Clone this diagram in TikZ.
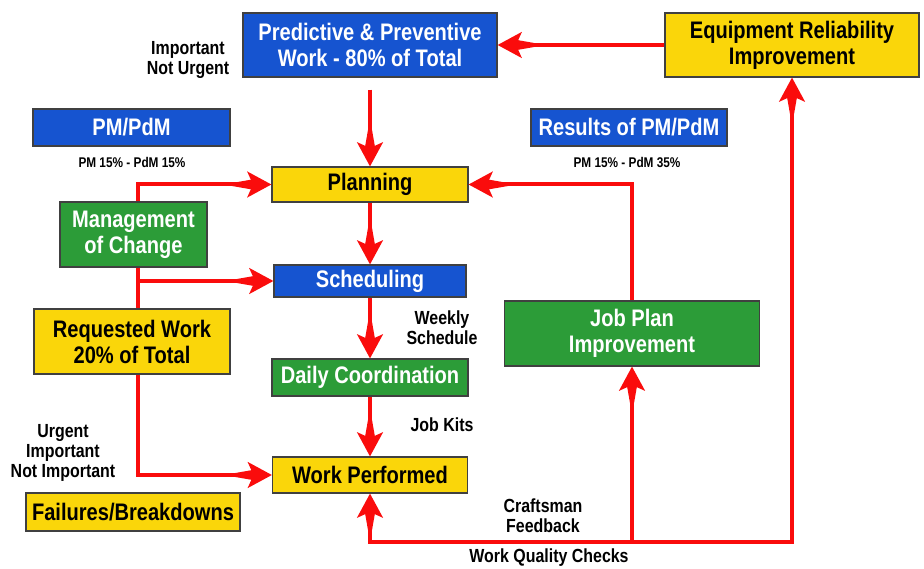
\documentclass[tikz,border=0pt]{standalone}
\usepackage{fontspec}
\setmainfont{Liberation Sans}[FakeStretch=0.84]
\usepackage{tikz}
\usetikzlibrary{arrows.meta}
\definecolor{boxblue}{RGB}{22,84,208}
\definecolor{boxyellow}{RGB}{250,214,10}
\definecolor{boxgreen}{RGB}{44,156,56}
\definecolor{flowred}{RGB}{250,12,12}
\tikzstyle{arrow} = [draw=flowred, line width=0.1cm,
  -{Kite[length=0.8cm 0 0, width=0.28cm 0 0, inset=0.8cm 0 0, sep=-0.2cm 0 0]Stealth[length=0.6cm 0 0, width=0.64cm 0 0, inset=0.14cm 0 0]}]
\tikzset{
 b/.style
  = {rectangle, draw=black!75, thick, align=center, inner sep=0pt,
     font=\fontsize{17}{18.5}\selectfont\bfseries},
 bb/.style
  = {b, fill=boxblue, text=white},
 yb/.style
  = {b, fill=boxyellow, text=black},
 gb/.style
  = {b, fill=boxgreen, text=white},
 t/.style
  = {align=center, font=\fontsize{13.5}{14.5}\selectfont\bfseries},
 tt/.style
  = {font=\fontsize{10}{11}\selectfont\bfseries},
 l/.style
  = {draw=flowred, line width=0.1cm},
}

\begin{document}
\begin{tikzpicture}[x=0.025cm, y=-0.025cm]
\useasboundingbox (0,0) rectangle (924,569);

% Top row
\node[bb, minimum width=6.35cm, minimum height=1.6cm] (predict) at (370,45) {Predictive \& Preventive\\Work - 80\% of Total};
\node[yb, minimum width=6.35cm, minimum height=1.6cm] (equip) at (792,45) {Equipment Reliability\\Improvement};
\node[t] (imp) at (188,60) {Important\\Not Urgent};

% PM boxes
\node[bb, minimum width=4.925cm, minimum height=0.925cm] (pm) at (131.5,127.5) {PM/PdM};
\node[tt] (pmlbl) at (132,162) {PM 15\% - PdM 15\%};
\node[bb, minimum width=4.9cm, minimum height=0.925cm] (results) at (629,127.5) {Results of PM/PdM};
\node[tt] (reslbl) at (627,162) {PM 15\% - PdM 35\%};

% Work flow column
\node[yb, minimum width=4.9cm, minimum height=0.875cm] (planning) at (370,184.5) {Planning};
\node[bb, minimum width=4.8cm, minimum height=0.8cm] (sched) at (370,281) {Scheduling};
\node[gb, minimum width=4.9cm, minimum height=0.925cm] (daily) at (370,377.5) {Daily Coordination};
\node[yb, minimum width=4.875cm, minimum height=0.9cm] (perf) at (370,475) {Work Performed};
\node[t] (weekly) at (442,328) {Weekly\\Schedule};
\node[t] (kits) at (442,425) {Job Kits};

% Left side
\node[gb, minimum width=3.675cm, minimum height=1.625cm] (moc) at (133.5,234.5) {Management\\of Change};
\node[yb, minimum width=4.9cm, minimum height=1.625cm] (req) at (132,341.5) {Requested Work\\20\% of Total};
\node[t] (urgent) at (63,453) {Urgent\\Important\\Not Important};
\node[yb, minimum width=5.35cm, minimum height=0.95cm] (fail) at (133,512) {Failures/Breakdowns};

% Right side
\node[gb, minimum width=6.375cm, minimum height=1.625cm] (jobplan) at (632,333.5) {Job Plan\\Improvement};
\node[t] (craft) at (543,516) {Craftsman\\Feedback};
\node[t] (quality) at (549,558) {Work Quality Checks};

% Down the column
\draw[arrow, shorten <=0.3cm] (predict) -- (planning);
\draw[arrow] (planning) -- (sched);
\draw[arrow] (sched) -- (daily);
\draw[arrow] (daily) -- (perf);

% Left feed lines
\coordinate (s) at (138,183);
\draw[arrow] (moc.north -| s) |- (planning);
\draw[arrow] (moc.south -| s) |- (sched);
\draw[l] (moc.south -| s) -- (req.north -| s);
\draw[arrow] (req.south -| s) |- (perf);

% Feedback loop
\coordinate (q) at (632,542);
\draw[arrow] (q) -| (perf);
\draw[arrow] (q) -- (q |- jobplan.south);
\draw[arrow] (q) -| (equip);
\draw[arrow] (jobplan) |- (planning);
\draw[arrow] (equip) -- (predict);

\end{tikzpicture}
\end{document}
